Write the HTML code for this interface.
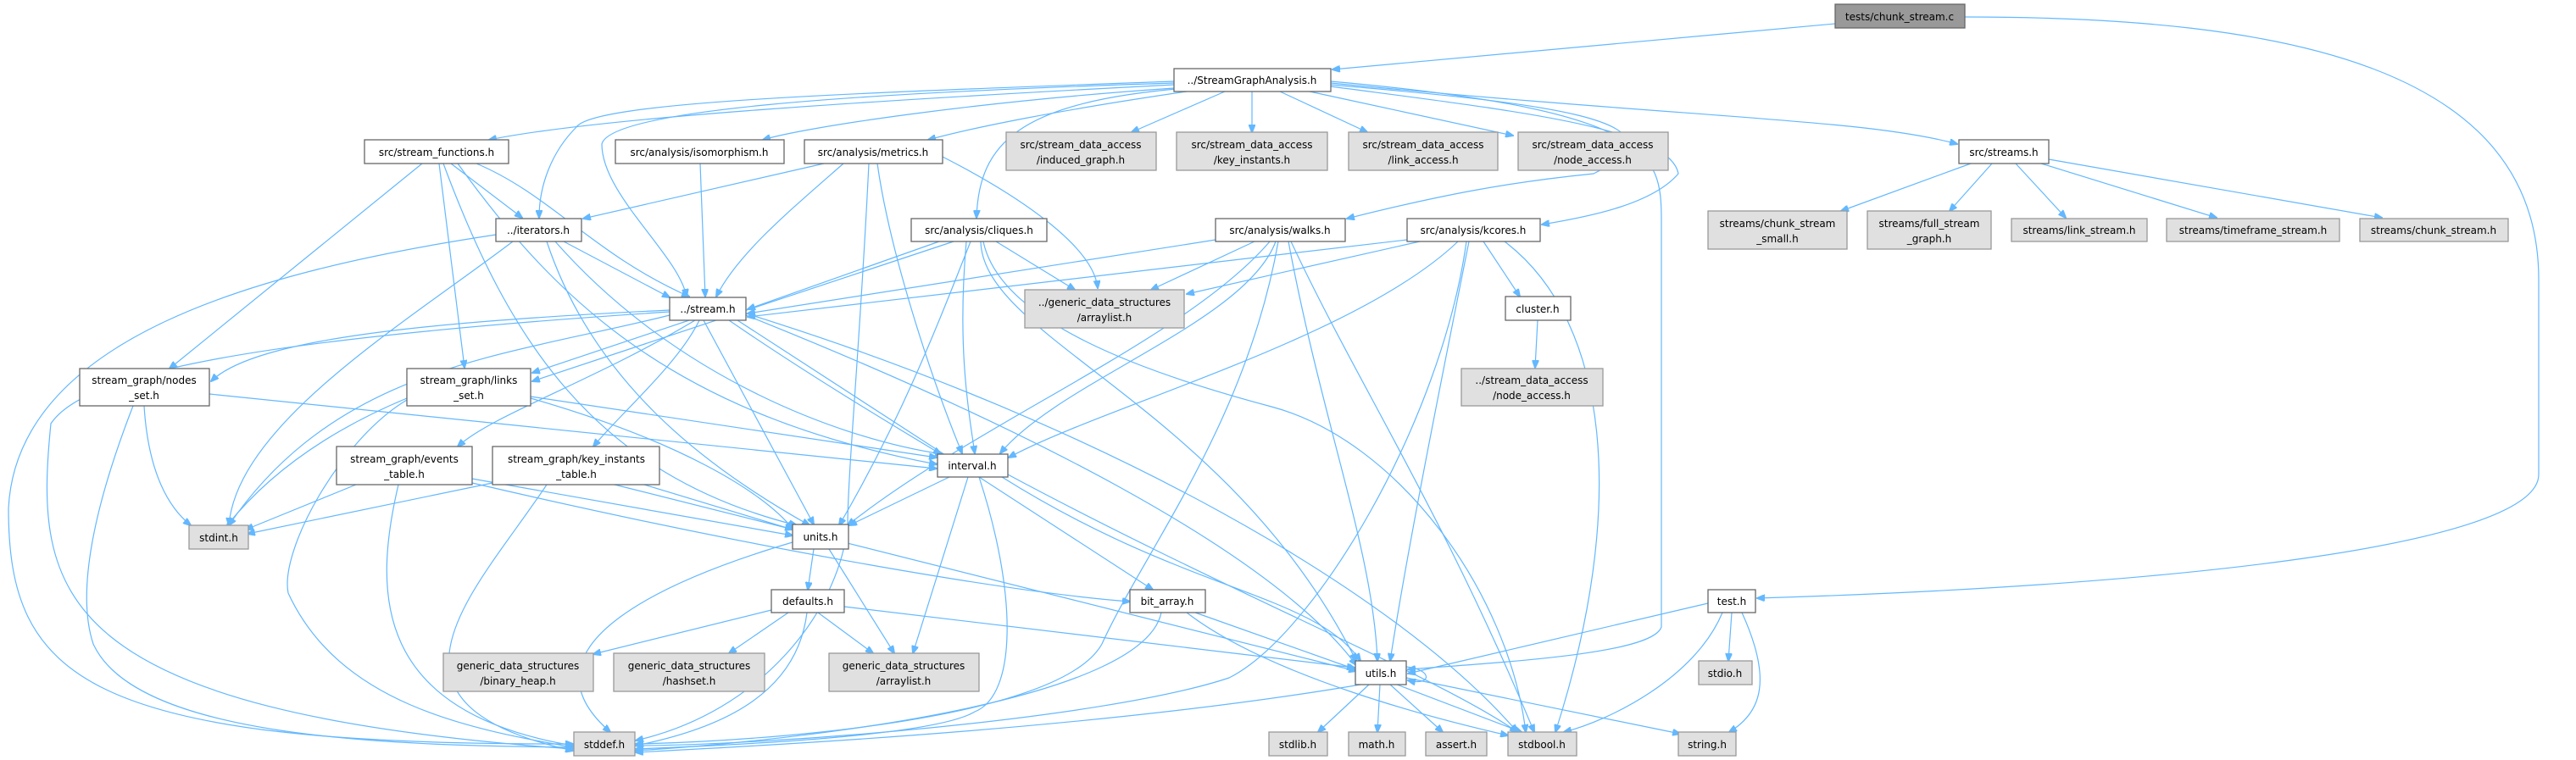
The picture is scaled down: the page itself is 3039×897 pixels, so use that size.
<!DOCTYPE html>
<html><head><meta charset="utf-8"><style>
html,body{margin:0;padding:0;background:#fff;}
svg{display:block}
text{font-family:"DejaVu Sans","Liberation Sans",sans-serif;font-size:12px;fill:#000;text-anchor:middle}
.n{fill:#fff;stroke:#666;stroke-width:1.3}
.g{fill:#e0e0e0;stroke:#999;stroke-width:1.3}
.r{fill:#999;stroke:#666;stroke-width:1.3}
path{fill:none;stroke:#63b8ff;stroke-width:1.2;marker-end:url(#a)}
</style></head><body>
<svg width="3039" height="897" viewBox="0 0 3039 897" xmlns="http://www.w3.org/2000/svg">
<defs><marker id="a" markerWidth="10" markerHeight="8" refX="9" refY="4" orient="auto" markerUnits="userSpaceOnUse"><path d="M0,0 L10,4 L0,8 z" style="fill:#63b8ff;stroke:#63b8ff;marker-end:none"/></marker></defs>
<g>
<!-- chunk_stream.c -->
<path d="M2165,28 L1572,82"/>
<path d="M2318,20 C2700,20 2995,80 2995,330 L2995,560 C2995,640 2600,690 2073,706"/>
<!-- SGA -->
<path d="M1385,100 C1000,120 700,140 577,165"/>
<path d="M1385,104 C1150,120 950,150 900,165"/>
<path d="M1400,108 C1250,130 1150,150 1095,165"/>
<path d="M1400,104 C1200,120 1155,170 1152,257"/>
<path d="M1445,108 L1335,156"/>
<path d="M1477,108 L1477,156"/>
<path d="M1510,108 L1613,156"/>
<path d="M1545,108 L1785,160"/>
<path d="M1570,98 C2000,140 2200,140 2309,170"/>
<path d="M1570,100 C1800,120 2010,140 1880,205 C1780,215 1700,230 1589,258"/>
<path d="M1570,102 C1780,130 1970,150 1980,205 C1950,240 1880,255 1819,265"/>
<path d="M1385,96 C1000,110 700,120 680,150 C650,180 636,220 636,257"/>
<path d="M1385,98 C1000,110 720,130 710,170 C710,230 800,300 810,350"/>
<path d="M1570,96 C1950,130 1960,180 1960,260 L1960,740 C1950,770 1800,780 1661,790"/>
<!-- stream_functions -->
<path d="M532,193 L616,257"/>
<path d="M562,193 C650,230 700,300 813,350"/>
<path d="M498,193 L200,435"/>
<path d="M518,193 L548,434"/>
<path d="M523,193 C600,400 700,560 940,620"/>
<path d="M540,193 C660,360 800,490 1105,548"/>
<!-- isomorphism -->
<path d="M826,193 L832,350"/>
<!-- metrics -->
<path d="M972,193 L688,258"/>
<path d="M995,193 C930,250 870,300 845,350"/>
<path d="M1112,185 C1200,230 1290,290 1295,340"/>
<path d="M1035,193 C1050,300 1100,450 1135,535"/>
<path d="M1025,193 C1015,400 1000,560 1000,620 C990,720 900,840 750,874"/>
<!-- cliques -->
<path d="M1108,285 L882,365"/>
<path d="M1175,285 L1268,342"/>
<path d="M1125,285 L628,450"/>
<path d="M1145,285 C1100,400 1060,500 990,620"/>
<path d="M1140,285 C1130,400 1140,470 1150,535"/>
<path d="M1157,285 C1160,400 1450,480 1600,780"/>
<path d="M1160,285 C1180,380 1350,440 1500,480 C1650,520 1780,700 1800,864"/>
<!-- walks -->
<path d="M1434,283 L882,370"/>
<path d="M1480,285 L1358,342"/>
<path d="M1498,285 C1400,400 1150,500 1000,620"/>
<path d="M1505,285 C1470,380 1250,450 1180,535"/>
<path d="M1520,285 C1560,500 1620,650 1625,780"/>
<path d="M1508,285 C1470,500 1350,650 1300,760 C1250,850 900,875 750,878"/>
<path d="M1523,285 C1600,450 1700,600 1810,864"/>
<!-- kcores -->
<path d="M1660,283 L882,374"/>
<path d="M1675,285 L1400,347"/>
<path d="M1750,285 L1793,350"/>
<path d="M1720,285 C1600,400 1300,480 1190,540"/>
<path d="M1733,285 C1700,450 1660,650 1640,780"/>
<path d="M1730,285 C1700,500 1550,750 1450,800 C1300,850 900,880 750,880"/>
<path d="M1775,285 C1900,380 1920,600 1835,864"/>
<path d="M1814,378 L1811,434"/>
<!-- iterators -->
<path d="M665,285 L790,351"/>
<path d="M585,277 C300,320 20,400 10,600 C10,800 100,880 676,878"/>
<path d="M605,285 C480,380 280,500 270,620"/>
<path d="M645,285 C700,450 830,550 955,620"/>
<path d="M655,285 C800,450 1000,520 1112,536"/>
<!-- stream.h -->
<path d="M790,366 C500,380 300,400 249,450"/>
<path d="M813,378 L628,440"/>
<path d="M820,378 C700,450 580,490 540,527"/>
<path d="M825,378 C800,430 730,490 700,527"/>
<path d="M790,372 C600,420 400,430 270,620"/>
<path d="M790,368 C300,400 100,440 60,500 C40,700 60,840 676,884"/>
<path d="M830,378 L960,619"/>
<path d="M860,378 C950,440 1050,500 1110,536"/>
<path d="M870,378 L1360,696"/>
<path d="M880,372 C1200,500 1500,650 1600,785"/>
<path d="M880,370 C1300,500 1650,700 1790,864"/>
<!-- nodes_set -->
<path d="M170,479 C175,560 200,600 225,620"/>
<path d="M157,479 C110,600 90,700 110,760 C160,870 450,880 676,882"/>
<path d="M247,465 L1105,553"/>
<!-- links_set -->
<path d="M480,470 C360,520 300,580 268,620"/>
<path d="M480,472 C400,520 330,650 340,700 C400,830 550,860 676,882"/>
<path d="M626,470 C800,520 900,580 935,624"/>
<path d="M626,468 L1105,540"/>
<!-- events_table -->
<path d="M420,572 L290,625"/>
<path d="M470,572 C440,700 440,840 676,880"/>
<path d="M557,565 L935,632"/>
<path d="M557,570 C900,650 1200,700 1333,710"/>
<!-- key_instants_table -->
<path d="M581,570 L292,630"/>
<path d="M645,572 C560,700 420,830 676,886"/>
<path d="M760,572 L935,625"/>
<path d="M725,572 L1600,792"/>
<!-- interval -->
<path d="M1120,563 L1002,620"/>
<path d="M1142,563 L1077,771"/>
<path d="M1155,563 C1200,700 1200,820 1150,840 C1100,870 850,880 750,884"/>
<path d="M1182,563 C1400,700 1550,700 1605,780"/>
<path d="M1189,560 C1450,700 1700,800 1790,864"/>
<!-- units -->
<path d="M960,648 L953,696"/>
<path d="M935,640 C800,680 600,760 720,864"/>
<path d="M978,648 L1055,771"/>
<!-- defaults -->
<path d="M910,720 L700,772"/>
<path d="M930,723 L860,771"/>
<path d="M952,723 C940,820 850,860 750,880"/>
<path d="M965,723 L1030,771"/>
<path d="M996,716 L1598,788"/>
<!-- bit_array -->
<path d="M1370,723 C1350,820 1000,870 750,886"/>
<path d="M1410,723 L1599,790"/>
<path d="M1400,723 C1500,800 1700,850 1779,868"/>
<!-- utils -->
<path d="M1605,808 C1300,860 900,880 750,888"/>
<path d="M1615,808 L1555,864"/>
<path d="M1628,808 L1625,864"/>
<path d="M1640,808 L1702,864"/>
<path d="M1648,808 L1795,864"/>
<path d="M1659,800 L1982,866"/>
<path d="M1659,787 C1690,790 1690,810 1661,803"/>
<!-- test -->
<path d="M2015,712 L1661,795"/>
<path d="M2032,723 C2000,800 1900,850 1845,864"/>
<path d="M2043,723 L2039,780"/>
<path d="M2055,723 C2090,800 2080,840 2040,864"/>
<!-- streams.h -->
<path d="M2325,193 L2172,249"/>
<path d="M2350,193 L2300,249"/>
<path d="M2378,193 L2437,257"/>
<path d="M2408,193 L2615,257"/>
<path d="M2417,188 L2810,257"/>
</g>
<!-- nodes -->
<rect class="r" x="2165" y="5" width="153" height="28"/><text x="2241" y="24">tests/chunk_stream.c</text>
<rect class="n" x="1385" y="81" width="185" height="27"/><text x="1477" y="99">../StreamGraphAnalysis.h</text>
<rect class="n" x="430" y="165" width="170" height="28"/><text x="515" y="184">src/stream_functions.h</text>
<rect class="n" x="726" y="165" width="199" height="28"/><text x="825" y="184">src/analysis/isomorphism.h</text>
<rect class="n" x="949" y="165" width="163" height="28"/><text x="1030" y="184">src/analysis/metrics.h</text>
<rect class="g" x="1187" y="156" width="177" height="45"/><text x="1275" y="175">src/stream_data_access</text><text x="1275" y="193">/induced_graph.h</text>
<rect class="g" x="1388" y="156" width="178" height="45"/><text x="1477" y="175">src/stream_data_access</text><text x="1477" y="193">/key_instants.h</text>
<rect class="g" x="1591" y="156" width="176" height="45"/><text x="1679" y="175">src/stream_data_access</text><text x="1679" y="193">/link_access.h</text>
<rect class="g" x="1791" y="156" width="177" height="45"/><text x="1879" y="175">src/stream_data_access</text><text x="1879" y="193">/node_access.h</text>
<rect class="n" x="2311" y="165" width="106" height="28"/><text x="2364" y="184">src/streams.h</text>
<rect class="g" x="2015" y="249" width="164" height="45"/><text x="2097" y="268">streams/chunk_stream</text><text x="2097" y="286">_small.h</text>
<rect class="g" x="2203" y="249" width="146" height="45"/><text x="2276" y="268">streams/full_stream</text><text x="2276" y="286">_graph.h</text>
<rect class="g" x="2373" y="258" width="160" height="27"/><text x="2453" y="276">streams/link_stream.h</text>
<rect class="g" x="2556" y="258" width="204" height="27"/><text x="2658" y="276">streams/timeframe_stream.h</text>
<rect class="g" x="2784" y="258" width="175" height="27"/><text x="2871" y="276">streams/chunk_stream.h</text>
<rect class="n" x="585" y="258" width="101" height="27"/><text x="635" y="276">../iterators.h</text>
<rect class="n" x="1075" y="258" width="160" height="27"/><text x="1155" y="276">src/analysis/cliques.h</text>
<rect class="n" x="1434" y="258" width="153" height="27"/><text x="1510" y="276">src/analysis/walks.h</text>
<rect class="n" x="1660" y="258" width="157" height="27"/><text x="1738" y="276">src/analysis/kcores.h</text>
<rect class="n" x="790" y="351" width="90" height="27"/><text x="835" y="369">../stream.h</text>
<rect class="g" x="1209" y="342" width="188" height="45"/><text x="1303" y="361">../generic_data_structures</text><text x="1303" y="379">/arraylist.h</text>
<rect class="n" x="1776" y="350" width="77" height="28"/><text x="1814" y="369">cluster.h</text>
<rect class="g" x="1724" y="435" width="167" height="44"/><text x="1807" y="453">../stream_data_access</text><text x="1807" y="471">/node_access.h</text>
<rect class="n" x="94" y="435" width="153" height="44"/><text x="170" y="453">stream_graph/nodes</text><text x="170" y="471">_set.h</text>
<rect class="n" x="480" y="435" width="146" height="44"/><text x="553" y="453">stream_graph/links</text><text x="553" y="471">_set.h</text>
<rect class="n" x="397" y="527" width="160" height="45"/><text x="477" y="546">stream_graph/events</text><text x="477" y="564">_table.h</text>
<rect class="n" x="581" y="527" width="197" height="45"/><text x="680" y="546">stream_graph/key_instants</text><text x="680" y="564">_table.h</text>
<rect class="n" x="1106" y="536" width="83" height="27"/><text x="1147" y="554">interval.h</text>
<rect class="g" x="223" y="620" width="70" height="28"/><text x="258" y="639">stdint.h</text>
<rect class="n" x="935" y="619" width="66" height="29"/><text x="968" y="638">units.h</text>
<rect class="n" x="910" y="696" width="86" height="27"/><text x="953" y="714">defaults.h</text>
<rect class="n" x="1333" y="696" width="89" height="27"/><text x="1377" y="714">bit_array.h</text>
<rect class="n" x="2015" y="696" width="56" height="27"/><text x="2043" y="714">test.h</text>
<rect class="n" x="1599" y="780" width="60" height="28"/><text x="1629" y="799">utils.h</text>
<rect class="g" x="2004" y="780" width="63" height="28"/><text x="2035" y="799">stdio.h</text>
<rect class="g" x="523" y="771" width="177" height="45"/><text x="611" y="790">generic_data_structures</text><text x="611" y="808">/binary_heap.h</text>
<rect class="g" x="724" y="771" width="178" height="45"/><text x="813" y="790">generic_data_structures</text><text x="813" y="808">/hashset.h</text>
<rect class="g" x="978" y="771" width="177" height="45"/><text x="1066" y="790">generic_data_structures</text><text x="1066" y="808">/arraylist.h</text>
<rect class="g" x="677" y="864" width="72" height="28"/><text x="713" y="883">stddef.h</text>
<rect class="g" x="1497" y="864" width="69" height="28"/><text x="1531" y="883">stdlib.h</text>
<rect class="g" x="1591" y="864" width="67" height="28"/><text x="1624" y="883">math.h</text>
<rect class="g" x="1682" y="864" width="72" height="28"/><text x="1718" y="883">assert.h</text>
<rect class="g" x="1779" y="864" width="81" height="28"/><text x="1819" y="883">stdbool.h</text>
<rect class="g" x="1980" y="864" width="68" height="28"/><text x="2014" y="883">string.h</text>
</svg>
</body></html>
